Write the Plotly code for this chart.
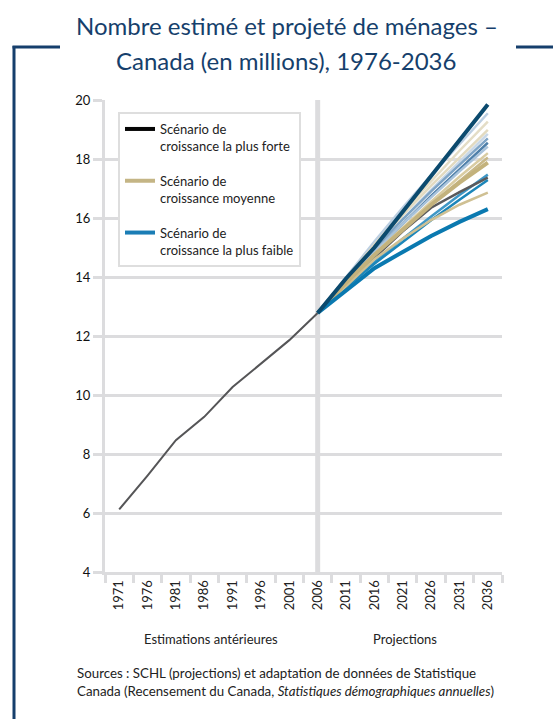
import plotly.graph_objects as go

# ---------------- data ----------------
years = ["1971", "1976", "1981", "1986", "1991", "1996", "2001", "2006",
         "2011", "2016", "2021", "2026", "2031", "2036"]
hist_years = years[:8]
hist_values = [6.12, 7.27, 8.47, 9.26, 10.27, 11.06, 11.86, 12.78]

proj_years = years[7:]
high_values = [12.78, 13.95, 15.0, 16.2, 17.4, 18.62, 19.85]
medium_values = [12.78, 13.8, 14.75, 15.62, 16.45, 17.2, 17.88]
low_values = [12.78, 13.55, 14.3, 14.85, 15.39, 15.87, 16.3]

# other scenarios (thin lines)
thin_a = [12.78, 14.0, 15.2, 16.35, 17.45, 18.5, 19.55]
thin_b = [12.78, 13.95, 15.1, 16.2, 17.25, 18.28, 19.27]
thin_c = [12.78, 13.95, 15.05, 16.1, 17.1, 18.05, 18.99]
thin_d = [12.78, 13.9, 14.95, 15.95, 16.95, 17.9, 18.85]
thin_e = [12.78, 13.9, 14.95, 15.95, 16.9, 17.8, 18.7]
thin_f = [12.78, 13.85, 14.85, 15.8, 16.75, 17.65, 18.55]
thin_g = [12.78, 13.85, 14.85, 15.8, 16.7, 17.58, 18.42]
thin_h = [12.78, 13.8, 14.78, 15.68, 16.55, 17.4, 18.2]
thin_i = [12.78, 13.8, 14.75, 15.62, 16.45, 17.25, 18.05]
thin_j = [12.78, 13.7, 14.5, 15.3, 16.05, 16.78, 17.47]
thin_k = [12.78, 13.75, 14.65, 15.55, 16.35, 16.88, 17.37]
thin_l = [12.78, 13.65, 14.45, 15.2, 15.92, 16.62, 17.29]
thin_m = [12.78, 13.7, 14.6, 15.3, 15.93, 16.45, 16.86]

thin_series = [thin_a, thin_b, thin_c, thin_d, thin_e, thin_f, thin_g,
               thin_h, thin_i, thin_j, thin_k, thin_l, thin_m]
thin_colors = ["#bccfe2", "#e4ddc6", "#e2dac0", "#c8d7e6", "#7ea4c6", "#4f80aa",
               "#a9c3db", "#d9cca2", "#c8b888", "#3f97c6", "#5a5a5c", "#1c86b9",
               "#cfc093"]

y_ticks = [4, 6, 8, 10, 12, 14, 16, 18, 20]
legend_labels = ["Scénario de<br>croissance la plus forte",
                 "Scénario de<br>croissance moyenne",
                 "Scénario de<br>croissance la plus faible"]
legend_colors = ["#050505", "#c4b585", "#1a7db5"]

title_lines = ["Nombre estimé et projeté de ménages –",
               "Canada (en millions), 1976-2036"]
section_labels = ["Estimations antérieures", "Projections"]
source_lines = ["Sources : SCHL (projections) et adaptation de données de Statistique",
                "Canada (Recensement du Canada, <i>Statistiques démographiques annuelles</i>)"]

# ---------------- layout helpers (pixel -> paper) ----------------
W, H = 553, 719
L, R, T, B = 105, 502, 100, 572


def px(x):
    return (x - L) / (R - L)


def py(y):
    return (B - y) / (B - T)


FONT = "Lato, 'Open Sans', sans-serif"
GRID = "#dcdcde"
NAVY = "#163f6c"

fig = go.Figure()

# thin scenario lines
for vals, col in zip(thin_series, thin_colors):
    fig.add_trace(go.Scatter(x=proj_years, y=vals, mode="lines",
                             line=dict(color=col, width=2.5), showlegend=False,
                             hoverinfo="skip"))

# historical line
fig.add_trace(go.Scatter(x=hist_years, y=hist_values, mode="lines",
                         line=dict(color="#555557", width=2), showlegend=False))

# main scenarios
fig.add_trace(go.Scatter(x=proj_years, y=medium_values, mode="lines",
                         line=dict(color="#c3b27c", width=4), showlegend=False))
fig.add_trace(go.Scatter(x=proj_years, y=low_values, mode="lines",
                         line=dict(color="#0a79b0", width=4), showlegend=False))
fig.add_trace(go.Scatter(x=proj_years, y=high_values, mode="lines",
                         line=dict(color="#0b4a6e", width=4), showlegend=False))

# legend entries
for i, (lab, col) in enumerate(zip(legend_labels, legend_colors)):
    fig.add_trace(go.Scatter(x=[None], y=[None], mode="lines", name=lab,
                             line=dict(color=col, width=4), legendgroup=str(i),
                             showlegend=True))

shapes = [
    # vertical separator at 2006
    dict(type="line", xref="x", yref="y", x0=7, x1=7, y0=4, y1=20,
         line=dict(color=GRID, width=5), layer="below"),
    # navy frame
    dict(type="line", xref="paper", yref="paper", x0=px(14), x1=px(14),
         y0=py(46), y1=py(725), line=dict(color=NAVY, width=3)),
    dict(type="line", xref="paper", yref="paper", x0=px(12.5), x1=px(60),
         y0=py(47), y1=py(47), line=dict(color=NAVY, width=3)),
    dict(type="line", xref="paper", yref="paper", x0=px(516), x1=px(560),
         y0=py(47), y1=py(47), line=dict(color=NAVY, width=3)),
]

annotations = [
    dict(text=title_lines[0], x=px(287), y=py(25), xref="paper", yref="paper",
         showarrow=False, font=dict(family=FONT, size=24, color=NAVY),
         xanchor="center", yanchor="middle"),
    dict(text=title_lines[1], x=px(286), y=py(60), xref="paper", yref="paper",
         showarrow=False, font=dict(family=FONT, size=24, color=NAVY),
         xanchor="center", yanchor="middle"),
    dict(text=section_labels[0], x=px(211), y=py(639), xref="paper", yref="paper",
         showarrow=False, font=dict(family=FONT, size=13, color="#222"),
         xanchor="center", yanchor="middle"),
    dict(text=section_labels[1], x=px(405), y=py(639), xref="paper", yref="paper",
         showarrow=False, font=dict(family=FONT, size=13, color="#222"),
         xanchor="center", yanchor="middle"),
    dict(text=source_lines[0], x=px(75), y=py(673), xref="paper", yref="paper",
         showarrow=False, font=dict(family=FONT, size=13.3, color="#222"),
         xanchor="left", yanchor="middle"),
    dict(text=source_lines[1], x=px(75), y=py(691), xref="paper", yref="paper",
         showarrow=False, font=dict(family=FONT, size=13.3, color="#222"),
         xanchor="left", yanchor="middle"),
]

fig.update_layout(
    width=W, height=H,
    margin=dict(l=L, r=W - R, t=T, b=H - B, pad=0),
    paper_bgcolor="white", plot_bgcolor="white",
    font=dict(family=FONT, size=13, color="#222"),
    shapes=shapes, annotations=annotations,
    showlegend=True,
    legend=dict(x=px(118), y=py(112), xanchor="left", yanchor="top",
                bgcolor="white", bordercolor="#dedede", borderwidth=2,
                font=dict(family=FONT, size=13, color="#222"),
                traceorder="grouped", tracegroupgap=15, valign="top",
                itemwidth=30),
    xaxis=dict(type="category", categoryorder="array", categoryarray=years,
               range=[-0.5, 13.5], tickson="boundaries", ticks="outside",
               ticklen=8, tickwidth=3, tickcolor=GRID, tickangle=-90,
               showgrid=False, showline=True, linecolor=GRID, linewidth=3,
               tickfont=dict(family=FONT, size=13, color="#222"), fixedrange=True),
    yaxis=dict(range=[4, 20], tickvals=y_ticks, ticks="outside", ticklen=9,
               tickwidth=3, tickcolor=GRID, showgrid=True, gridcolor=GRID,
               gridwidth=3, showline=True, linecolor=GRID, linewidth=3,
               zeroline=False, tickfont=dict(family=FONT, size=13, color="#111"),
               fixedrange=True),
)

fig.write_html("out.html")
